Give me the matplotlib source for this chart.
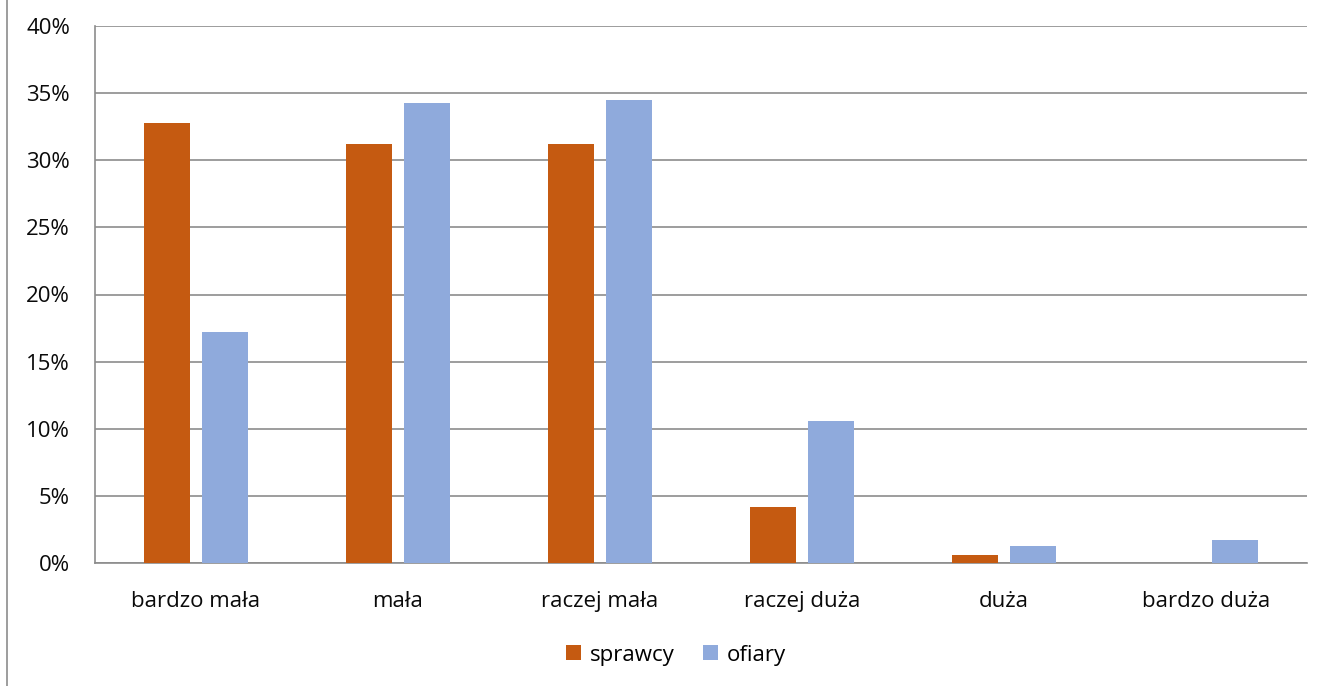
import numpy as np
import matplotlib.pyplot as plt
from matplotlib.lines import Line2D

categories = ["bardzo mała", "mała", "raczej mała", "raczej duża", "duża", "bardzo duża"]
sprawcy = [32.8, 31.2, 31.2, 4.2, 0.6, 0.0]
ofiary = [17.2, 34.3, 34.5, 10.6, 1.3, 1.7]
yticks = [0, 5, 10, 15, 20, 25, 30, 35, 40]

plt.rcParams['font.family'] = ['Open Sans', 'DejaVu Sans']

fig = plt.figure(figsize=(13.24, 6.86), dpi=100)
ax = fig.add_axes([95 / 1324, 123 / 686, 1212 / 1324, 537 / 686])

x = np.arange(len(categories))
w = 0.227
ax.bar(x - 0.142, sprawcy, w, color="#C55A11", label="sprawcy", zorder=3)
ax.bar(x + 0.142, ofiary, w, color="#8FAADC", label="ofiary", zorder=3)

ax.set_xlim(-0.5, len(categories) - 0.5)
ax.set_ylim(0, 40)
ax.set_yticks(yticks)
ax.set_yticklabels([f"{t}%" for t in yticks])
ax.set_xticks(x)
ax.set_xticklabels(categories)
ax.yaxis.grid(True, color="#8C8C8C", linewidth=1.2, zorder=0)
ax.tick_params(axis="both", length=0, labelsize=16, colors="#0A0A0A")
ax.tick_params(axis="y", pad=18)
ax.tick_params(axis="x", pad=20)

for s in ["top", "right"]:
    ax.spines[s].set_visible(False)
for s in ["left", "bottom"]:
    ax.spines[s].set_color("#8C8C8C")
    ax.spines[s].set_linewidth(1.2)

fig.legend(loc="center", bbox_to_anchor=(676 / 1324, 1 - 655 / 686), ncol=2,
           frameon=False, fontsize=16, handlelength=0.65, handleheight=0.65,
           handletextpad=0.4, columnspacing=1.3)

fig.add_artist(Line2D([7 / 1324, 7 / 1324], [0, 1], color="#8C8C8C", linewidth=1.2))

fig.savefig("out.png", dpi=100)
